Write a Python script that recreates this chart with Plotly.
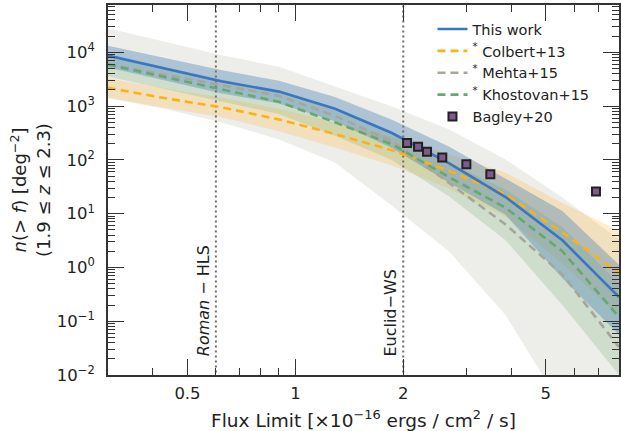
import plotly.graph_objects as go
import numpy as np

# ---------------- data ----------------
flux_grid = [0.30, 0.43, 0.62, 0.90, 1.29, 1.86, 2.68, 3.86, 5.56, 8.00]

this_work    = [8700, 5000, 2900, 1860, 890, 316, 87, 20.4, 3.2, 0.28]
this_work_hi = [13200, 7900, 4700, 2950, 1480, 560, 178, 44.7, 11.2, 1.12]
this_work_lo = [5250, 3020, 1740, 1120, 525, 166, 38, 9.5, 0.63, 0.056]

colbert    = [2190, 1410, 955, 562, 302, 151, 63, 22.9, 4.47, 0.79]
colbert_hi = [3310, 2140, 1450, 890, 500, 270, 126, 57.5, 15.8, 4.8]
colbert_lo = [1450, 930, 630, 340, 170, 79, 29.5, 8.7, 1.17, 0.126]

mehta    = [6000, 3800, 2450, 1550, 660, 224, 38, 6.3, 0.74, 0.033]
mehta_hi = [28000, 15800, 8900, 5400, 2290, 980, 370, 102, 20, 3.3]
mehta_lo = [1400, 890, 500, 240, 89, 14, 2.0, 0.13, 0.0025, 0.00006]

khostovan    = [5900, 3470, 2040, 1200, 500, 195, 48, 12.9, 2.0, 0.12]
khostovan_hi = [8900, 5250, 3160, 1860, 830, 330, 89, 28, 5.6, 0.5]
khostovan_lo = [3550, 2090, 1260, 710, 280, 100, 21, 3.2, 0.2, 0.01]

bagley_flux = [2.05, 2.20, 2.33, 2.57, 3.00, 3.50, 6.90]
bagley_n    = [207, 175, 141, 111, 83, 54, 25.7]
bagley_err  = [12, 10, 8, 6, 5, 4, 2]

survey_limits = [0.6, 2.0]
survey_labels = ["<i>Roman</i> − HLS", "Euclid−WS"]

x_ticks = [0.5, 1, 2, 5]
x_ticktext = ["0.5", "1", "2", "5"]
x_minor = [0.4, 0.6, 0.7, 0.8, 0.9, 3, 4, 6, 7, 8]
y_ticks = [1e-2, 1e-1, 1, 10, 100, 1e3, 1e4]
y_ticktext = ["10<sup>−2</sup>", "10<sup>−1</sup>", "10<sup>0</sup>", "10<sup>1</sup>",
              "10<sup>2</sup>", "10<sup>3</sup>", "10<sup>4</sup>"]
y_minor = [m * 10.0 ** e for e in range(-2, 5) for m in range(2, 10)]

# ---------------- styles ----------------
C_BLUE = "#3a76c2"
C_ORANGE = "#ffb20f"
C_GRAY = "#a8a59a"
C_GREEN = "#66a872"
FONT = "DejaVu Sans"
AXC = "#333333"

fig = go.Figure()

def band(lo, hi, color):
    fig.add_trace(go.Scatter(x=flux_grid, y=lo, mode="lines", line=dict(width=0),
                             showlegend=False, hoverinfo="skip"))
    fig.add_trace(go.Scatter(x=flux_grid, y=hi, mode="lines", line=dict(width=0),
                             fill="tonexty", fillcolor=color, showlegend=False,
                             hoverinfo="skip"))

band(mehta_lo, mehta_hi, "rgba(200,198,188,0.32)")
band(colbert_lo, colbert_hi, "rgba(255,185,60,0.25)")
band(khostovan_lo, khostovan_hi, "rgba(120,178,120,0.25)")
band(this_work_lo, this_work_hi, "rgba(70,128,182,0.38)")

# survey limits
for v, lab in zip(survey_limits, survey_labels):
    fig.add_trace(go.Scatter(x=[v, v], y=[1e-4, 1e6], mode="lines",
                             line=dict(color="#6e6e6e", width=2, dash="2px,3px"),
                             showlegend=False, hoverinfo="skip"))
    fig.add_annotation(x=np.log10(v), xref="x", y=0.045, yref="paper",
                       text=lab, textangle=-90, showarrow=False,
                       xanchor="right", yanchor="bottom", xshift=-1,
                       font=dict(family=FONT, size=16, color="#222"))

dash = "8px,5px"
fig.add_trace(go.Scatter(x=flux_grid, y=colbert, mode="lines", name="<sup>*</sup> Colbert+13",
                         legendgroup="b", legendrank=2,
                         line=dict(color=C_ORANGE, width=2.6, dash=dash)))
fig.add_trace(go.Scatter(x=flux_grid, y=mehta, mode="lines", name="<sup>*</sup> Mehta+15",
                         legendgroup="c", legendrank=3,
                         line=dict(color=C_GRAY, width=2.6, dash=dash)))
fig.add_trace(go.Scatter(x=flux_grid, y=khostovan, mode="lines", name="<sup>*</sup> Khostovan+15",
                         legendgroup="d", legendrank=4,
                         line=dict(color=C_GREEN, width=2.6, dash=dash)))
fig.add_trace(go.Scatter(x=flux_grid, y=this_work, mode="lines", name="This work",
                         legendgroup="a", legendrank=1,
                         line=dict(color=C_BLUE, width=2.6)))
fig.add_trace(go.Scatter(x=bagley_flux, y=bagley_n, mode="markers", name="Bagley+20",
                         legendgroup="e", legendrank=5,
                         marker=dict(symbol="square", size=8, color="#7e5a8e",
                                     line=dict(color="#222222", width=2)),
                         error_y=dict(type="data", array=bagley_err, color="#222222",
                                      thickness=1.5, width=3)))

fig.update_layout(
    width=621, height=431,
    margin=dict(l=108, r=0, t=5, b=56),
    paper_bgcolor="white", plot_bgcolor="white",
    font=dict(family=FONT, size=16, color="#222"),
    showlegend=True,
    legend=dict(x=0.635, y=0.978, xanchor="left", yanchor="top",
                traceorder="normal",
                bgcolor="rgba(0,0,0,0)", font=dict(size=14.5, family=FONT),
                tracegroupgap=2, itemwidth=30),
)

fig.update_xaxes(
    type="log", range=[np.log10(0.3), np.log10(8)],
    tickvals=x_ticks, ticktext=x_ticktext,
    ticks="inside", ticklen=16, tickwidth=1.4, tickcolor=AXC,
    minor=dict(tickvals=x_minor, ticks="inside", ticklen=7, tickwidth=1, tickcolor=AXC),
    showline=True, linecolor=AXC, linewidth=1.6, mirror="allticks",
    showgrid=False, zeroline=False,
    tickfont=dict(size=16.5, family=FONT),
    ticklabelstandoff=2,
    title=dict(text="Flux Limit [×10<sup>−16</sup> ergs / cm<sup>2</sup> / s]",
               font=dict(size=18.5, family=FONT), standoff=14),
)
fig.update_yaxes(
    type="log", range=[-2, 4.88],
    tickvals=y_ticks, ticktext=y_ticktext,
    ticks="inside", ticklen=16, tickwidth=1.4, tickcolor=AXC,
    minor=dict(tickvals=y_minor, ticks="inside", ticklen=7, tickwidth=1, tickcolor=AXC),
    showline=True, linecolor=AXC, linewidth=1.6, mirror="allticks",
    showgrid=False, zeroline=False,
    tickfont=dict(size=16.5, family=FONT),
    ticklabelstandoff=8,
    title=dict(text="<i>n</i>(> <i>f</i>) [deg<sup>−2</sup>]<br>(1.9 ≤ <i>z</i> ≤ 2.3)",
               font=dict(size=18, family=FONT), standoff=2),
)

fig.write_html("out.html")
